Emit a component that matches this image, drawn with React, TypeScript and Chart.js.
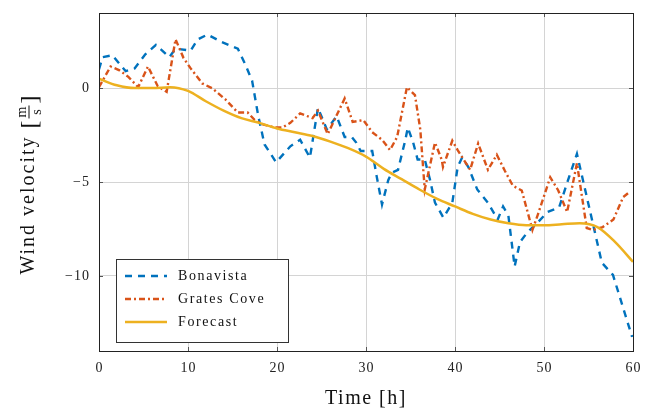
import React, { useEffect, useRef } from "react";
import { Chart, registerables } from "chart.js";

Chart.register(...registerables);

// ---- Data ----
const bonavistaX = [0, 0.4, 1.5, 3.0, 4.0, 5.2, 6.4, 7.9, 8.6, 10.3, 11.1, 12.2, 13.8, 15.6, 16.4, 17.2, 17.9, 18.6, 19.9, 21.5, 22.6, 23.7, 24.6, 25.6, 26.7, 27.6, 28.4, 28.9, 29.4, 30.7, 31.2, 31.8, 32.5, 32.9, 33.6, 34.4, 34.7, 35.3, 35.8, 36.6, 37.2, 37.75, 38.7, 39.7, 40.3, 40.8, 41.5, 42.5, 43.7, 44.8, 45.4, 46.0, 46.7, 47.3, 48.1, 49.2, 50.4, 51.7, 52.7, 53.7, 56.5, 57.75, 59.9];
const bonavistaY = [1.0, 1.65, 1.75, 0.9, 1.05, 1.8, 2.3, 1.65, 2.1, 2.0, 2.6, 2.85, 2.45, 2.1, 1.3, 0.4, -1.5, -3.0, -3.95, -3.1, -2.75, -3.7, -1.05, -2.2, -1.5, -2.6, -2.6, -2.9, -3.35, -3.35, -4.7, -6.2, -4.9, -4.5, -4.35, -2.8, -2.1, -2.9, -3.8, -3.8, -4.9, -6.1, -6.9, -6.1, -4.2, -3.7, -4.2, -5.4, -6.1, -7.0, -6.3, -6.8, -9.5, -8.2, -7.7, -7.2, -6.6, -6.35, -4.9, -3.5, -9.3, -9.95, -13.25];

const gratesX = [0, 1.3, 2.3, 3.3, 4.4, 5.5, 6.6, 7.6, 8.6, 9.5, 10.3, 11.6, 12.7, 14.2, 15.6, 16.7, 17.5, 18.5, 19.8, 20.6, 21.5, 22.6, 24.0, 24.6, 25.7, 27.6, 28.5, 29.7, 30.7, 31.8, 32.7, 33.5, 34.6, 35.5, 36.1, 36.6, 37.75, 38.5, 38.65, 39.7, 40.3, 41.7, 42.6, 43.7, 44.7, 45.6, 46.5, 47.5, 48.7, 49.3, 50.7, 51.6, 52.6, 53.7, 54.8, 55.5, 56.6, 57.8, 58.9, 59.7];
const gratesY = [0.05, 1.15, 0.95, 0.6, 0.05, 1.15, 0.1, -0.2, 2.6, 1.6, 1.05, 0.25, 0.0, -0.6, -1.3, -1.3, -1.7, -1.95, -2.1, -2.1, -1.85, -1.35, -1.6, -1.2, -2.45, -0.55, -1.8, -1.7, -2.35, -2.75, -3.3, -2.6, 0.05, -0.37, -2.2, -5.4, -2.9, -3.8, -4.2, -2.8, -3.3, -4.35, -2.95, -4.35, -3.55, -4.4, -5.2, -5.45, -7.55, -6.75, -4.75, -5.45, -6.6, -4.0, -7.45, -7.55, -7.4, -7.0, -5.8, -5.5];

const forecastX = [0, 2, 4, 6, 8, 10, 12, 14, 16, 18, 20, 22, 24, 26, 28, 30, 32, 34, 36, 38, 40, 42, 44, 46, 48, 50, 52, 54, 56, 58, 60];
const forecastY = [0.5, 0.15, 0.0, 0.0, 0.05, -0.15, -0.7, -1.2, -1.6, -1.85, -2.15, -2.35, -2.55, -2.85, -3.2, -3.65, -4.3, -4.85, -5.4, -5.9, -6.3, -6.7, -7.0, -7.2, -7.3, -7.3, -7.25, -7.2, -7.4, -8.2, -9.25];

const xTicks = [0, 10, 20, 30, 40, 50, 60];
const yTicks = [-10, -5, 0];
const seriesNames = ["Bonavista", "Grates Cove", "Forecast"];

const BLUE = "#0072BD";
const ORANGE = "#D95319";
const YELLOW = "#EDB120";
const SERIF = "'Liberation Serif', 'DejaVu Serif', serif";

const pts = (xs: number[], ys: number[]) => xs.map((x, i) => ({ x, y: ys[i] }));
const fmt = (v: number) => String(v).replace("-", "\u2212");

const decorPlugin = {
  id: "decor",
  afterDraw(chart: any) {
    const { ctx, chartArea: a, scales } = chart;
    ctx.save();
    // inner tick marks
    ctx.strokeStyle = "#555";
    ctx.lineWidth = 1;
    ctx.beginPath();
    xTicks.forEach((v) => {
      const px = Math.round(scales.x.getPixelForValue(v)) + 0.5;
      ctx.moveTo(px, a.bottom);
      ctx.lineTo(px, a.bottom - 4);
      ctx.moveTo(px, a.top);
      ctx.lineTo(px, a.top + 4);
    });
    yTicks.forEach((v) => {
      const py = Math.round(scales.y.getPixelForValue(v)) + 0.5;
      ctx.moveTo(a.left, py);
      ctx.lineTo(a.left + 4, py);
      ctx.moveTo(a.right, py);
      ctx.lineTo(a.right - 4, py);
    });
    ctx.stroke();
    // frame
    ctx.strokeStyle = "#222";
    ctx.strokeRect(Math.round(a.left) + 0.5, Math.round(a.top) + 0.5, Math.round(a.right - a.left), Math.round(a.bottom - a.top));

    // tick labels
    ctx.fillStyle = "#222";
    ctx.font = `14px ${SERIF}`;
    ctx.letterSpacing = "1px";
    ctx.textBaseline = "middle";
    ctx.textAlign = "center";
    xTicks.forEach((v) => {
      ctx.fillText(fmt(v), scales.x.getPixelForValue(v) + 0.5, 368);
    });
    ctx.textAlign = "right";
    yTicks.forEach((v) => {
      ctx.fillText(fmt(v), 90, scales.y.getPixelForValue(v));
    });

    // legend
    const lx = 116.5, ly = 259.5, lw = 172, lh = 83;
    ctx.fillStyle = "#fff";
    ctx.fillRect(lx, ly, lw, lh);
    ctx.strokeStyle = "#333";
    ctx.strokeRect(lx, ly, lw, lh);
    const rows = [276, 299, 322];
    const styles = [
      { c: BLUE, d: [7, 6] },
      { c: ORANGE, d: [6, 3, 2, 3] },
      { c: YELLOW, d: [] as number[] },
    ];
    ctx.font = `14px ${SERIF}`;
    ctx.letterSpacing = "1.6px";
    ctx.textBaseline = "middle";
    ctx.textAlign = "left";
    rows.forEach((ry, i) => {
      ctx.strokeStyle = styles[i].c;
      ctx.lineWidth = 2.4;
      ctx.setLineDash(styles[i].d);
      ctx.beginPath();
      ctx.moveTo(125, ry);
      ctx.lineTo(167, ry);
      ctx.stroke();
      ctx.setLineDash([]);
      ctx.fillStyle = "#111";
      ctx.fillText(seriesNames[i], 178, ry);
    });

    // x title
    ctx.font = `20px ${SERIF}`;
    ctx.letterSpacing = "1.5px";
    ctx.textAlign = "center";
    ctx.textBaseline = "alphabetic";
    ctx.fillText("Time [h]", (a.left + a.right) / 2, 404);

    // y title (rotated) with fraction
    ctx.save();
    ctx.translate(34, 185);
    ctx.rotate(-Math.PI / 2);
    ctx.font = `20px ${SERIF}`;
    ctx.letterSpacing = "2px";
    const main = "Wind velocity ";
    const wMain = ctx.measureText(main).width;
    ctx.letterSpacing = "0px";
    ctx.font = `24px ${SERIF}`;
    const wBr = ctx.measureText("[").width;
    const wFrac = 13;
    const total = wMain + wBr * 2 + wFrac + 4;
    let cx = -total / 2;
    ctx.textAlign = "left";
    ctx.font = `20px ${SERIF}`;
    ctx.letterSpacing = "2px";
    ctx.fillText(main, cx, 0);
    ctx.letterSpacing = "0px";
    cx += wMain;
    ctx.font = `24px ${SERIF}`;
    ctx.fillText("[", cx, 3);
    cx += wBr + 2;
    ctx.font = `14px ${SERIF}`;
    ctx.textAlign = "center";
    ctx.fillText("m", cx + wFrac / 2, -8);
    ctx.fillText("s", cx + wFrac / 2, 7);
    ctx.fillRect(cx, -5.5, wFrac, 1);
    cx += wFrac + 2;
    ctx.font = `24px ${SERIF}`;
    ctx.textAlign = "left";
    ctx.fillText("]", cx, 3);
    ctx.restore();

    ctx.restore();
  },
};

export default function App() {
  const ref = useRef<HTMLCanvasElement>(null);
  useEffect(() => {
    document.body.style.margin = "0";
    const chart = new Chart(ref.current!, {
      type: "line",
      data: {
        datasets: [
          {
            label: seriesNames[0],
            data: pts(bonavistaX, bonavistaY),
            borderColor: BLUE,
            borderWidth: 2.4,
            borderDash: [7, 6],
            pointRadius: 0,
            tension: 0,
            order: 2,
          },
          {
            label: seriesNames[1],
            data: pts(gratesX, gratesY),
            borderColor: ORANGE,
            borderWidth: 2.4,
            borderDash: [6, 3, 2, 3],
            pointRadius: 0,
            tension: 0,
            order: 1,
          },
          {
            label: seriesNames[2],
            data: pts(forecastX, forecastY),
            borderColor: YELLOW,
            borderWidth: 2.5,
            pointRadius: 0,
            cubicInterpolationMode: "monotone",
            order: 0,
          },
        ],
      },
      options: {
        animation: false,
        responsive: false,
        devicePixelRatio: 1,
        layout: { padding: { left: 0, right: 24, top: 13, bottom: 0 } },
        plugins: { legend: { display: false }, tooltip: { enabled: false } },
        scales: {
          x: {
            type: "linear",
            min: 0,
            max: 60,
            afterBuildTicks: (s: any) => {
              s.ticks = xTicks.map((v) => ({ value: v }));
            },
            afterFit: (s: any) => {
              s.height = 58;
            },
            ticks: { display: false },
            grid: { color: "#d4d4d4", lineWidth: 1, drawTicks: false },
            border: { display: false },
          },
          y: {
            type: "linear",
            min: -14,
            max: 4,
            afterBuildTicks: (s: any) => {
              s.ticks = yTicks.map((v) => ({ value: v }));
            },
            afterFit: (s: any) => {
              s.width = 99;
            },
            ticks: { display: false },
            grid: { color: "#d4d4d4", lineWidth: 1, drawTicks: false },
            border: { display: false },
          },
        },
      },
      plugins: [decorPlugin],
    } as any);
    return () => chart.destroy();
  }, []);
  return (
    <div style={{ width: 657, height: 409 }}>
      <canvas ref={ref} width={657} height={409} style={{ display: "block" }} />
    </div>
  );
}
